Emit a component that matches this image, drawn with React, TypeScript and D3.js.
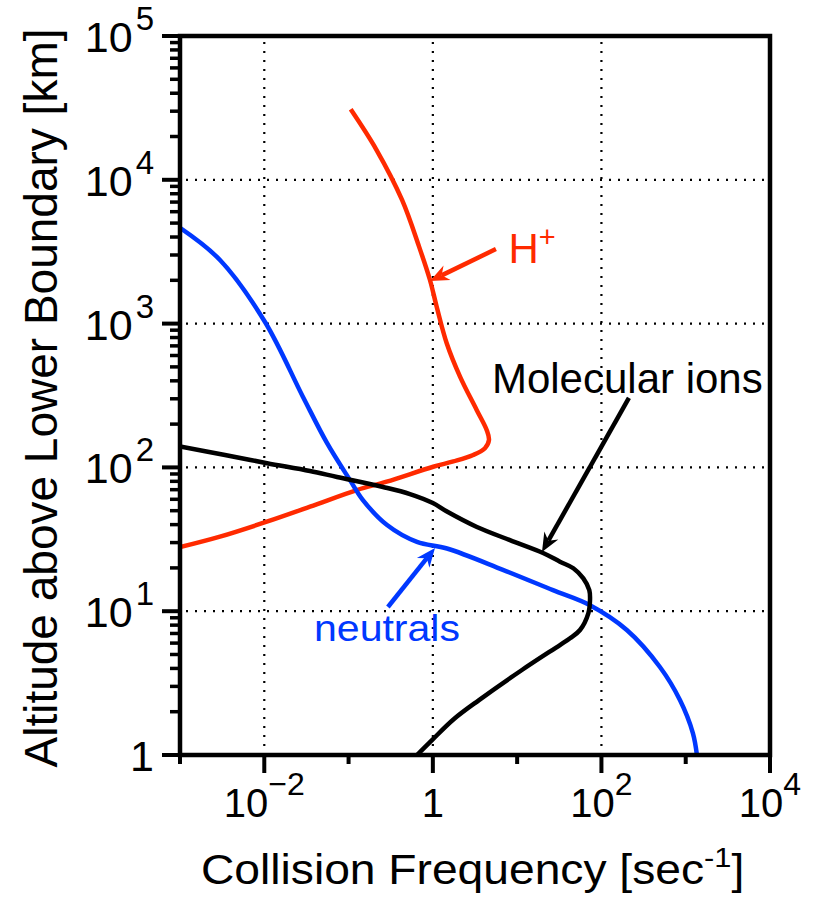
import * as d3 from "d3";

// [collision frequency (1/s), altitude (km)]
const neutrals: [number, number][] = [
  [0.001, 4630], [0.00298, 2770], [0.0102, 1026], [0.0288, 309], [0.0554, 148],
  [0.104, 81.6], [0.148, 59.3], [0.286, 39.7], [0.648, 30.3], [1.47, 27.3],
  [6.78, 19.4], [26.6, 14.0], [73.1, 11.0], [200, 7.4], [494, 4.09],
  [854, 2.41], [1216, 1.42], [1358, 1],
];

const hPlus: [number, number][] = [
  [0.106, 30900], [0.215, 16100], [0.431, 7240], [0.686, 3430],
  [0.924, 2010], [1.11, 1310], [1.46, 730], [2.1, 428], [3.31, 251],
  [4.35, 182], [4.63, 155], [4.15, 136], [3.01, 122], [1.75, 110],
  [1.01, 101], [0.283, 79.6], [0.125, 69.6], [0.0349, 53.3], [0.0107, 41.9],
  [0.00298, 33.0], [0.001, 27.9],
];

const molecularIons: [number, number][] = [
  [0.001, 140], [0.00342, 122], [0.0108, 107], [0.0348, 94.4], [0.0728, 85.8],
  [0.256, 73.1], [0.535, 65.3], [1.0, 56.5], [1.47, 49.3], [3.33, 38.5],
  [8.22, 31.2], [20.3, 25.4], [32.2, 22.1], [46.4, 19.9], [61.0, 16.9],
  [71.8, 14.0], [73.2, 11.96], [69.9, 9.67], [55.7, 7.4], [42.4, 6.48],
  [32.2, 5.82], [11.4, 3.9], [3.53, 2.41], [1.78, 1.78], [0.977, 1.27],
  [0.649, 1],
];

const xGridValues = [1e-2, 1, 1e2];
const yGridValues = [1e1, 1e2, 1e3, 1e4];
const xLabelExponents = [-2, 0, 2, 4];
const yLabelExponents = [0, 1, 2, 3, 4, 5];

const RED = "#ff2a00";
const BLUE = "#0038ff";
const FONT = "'Liberation Sans', Arial, Helvetica, sans-serif";

const width = 830;
const height = 913;
const margin = { top: 36, right: 60, bottom: 158, left: 180 };
const plotRight = width - margin.right;
const plotBottom = height - margin.bottom;

const x = d3.scaleLog().domain([1e-3, 1e4]).range([margin.left, plotRight]);
const y = d3.scaleLog().domain([1, 1e5]).range([plotBottom, margin.top]);

const line = d3
  .line<[number, number]>()
  .x((d) => x(d[0]))
  .y((d) => y(d[1]))
  .curve(d3.curveCatmullRom.alpha(0.5));

const expText = (e: number) => (e < 0 ? "\u2212" + Math.abs(e) : String(e));

type ArrowProps = { from: [number, number]; to: [number, number]; color: string };

// arrow between two data points, head at "to"
const Arrow = ({ from, to, color }: ArrowProps) => {
  const x1 = x(from[0]), y1 = y(from[1]);
  const x2 = x(to[0]), y2 = y(to[1]);
  const a = Math.atan2(y2 - y1, x2 - x1);
  const ux = Math.cos(a), uy = Math.sin(a);
  const px = -uy, py = ux;
  const len = 19, half = 8, notch = 13;
  const bx = x2 - ux * len, by = y2 - uy * len;
  const nx = x2 - ux * notch, ny = y2 - uy * notch;
  const head = `M${x2},${y2}L${bx + px * half},${by + py * half}L${nx},${ny}L${bx - px * half},${by - py * half}Z`;
  return (
    <g>
      <line x1={x1} y1={y1} x2={nx} y2={ny} stroke={color} strokeWidth={4.5} />
      <path d={head} fill={color} />
    </g>
  );
};

const App = () => {
  const xDecades = d3.range(-3, 5).map((p) => 10 ** p);
  const yDecades = d3.range(0, 6).map((p) => 10 ** p);
  const yMinor = d3.range(0, 5).flatMap((p) => d3.range(2, 10).map((k) => k * 10 ** p));

  return (
    <svg
      width={width}
      height={height}
      style={{ position: "absolute", left: 0, top: 0, background: "#fff" }}
      fontFamily={FONT}
    >
      <defs>
        <clipPath id="plot">
          <rect x={margin.left} y={margin.top} width={plotRight - margin.left} height={plotBottom - margin.top} />
        </clipPath>
      </defs>

      {/* dotted grid */}
      {xGridValues.map((v) => (
        <line key={"gx" + v} x1={x(v)} x2={x(v)} y1={margin.top + 6} y2={plotBottom} stroke="#000" strokeWidth={2.2} strokeDasharray="2 7" />
      ))}
      {yGridValues.map((v) => (
        <line key={"gy" + v} x1={margin.left + 6} x2={plotRight} y1={y(v)} y2={y(v)} stroke="#000" strokeWidth={2.2} strokeDasharray="2 7" />
      ))}

      {/* curves */}
      <g clipPath="url(#plot)" fill="none" strokeLinejoin="round">
        <path d={line(hPlus)!} stroke={RED} strokeWidth={4.5} />
        <path d={line(neutrals)!} stroke={BLUE} strokeWidth={4.5} />
        <path d={line(molecularIons)!} stroke="#000" strokeWidth={4.5} />
      </g>

      {/* ticks */}
      {xDecades.map((v, i) => (
        <line key={"tx" + v} x1={x(v)} x2={x(v)} y1={plotBottom} y2={plotBottom + (i % 2 === 1 ? 18 : 9)} stroke="#000" strokeWidth={4} />
      ))}
      {yDecades.map((v) => (
        <line key={"ty" + v} x1={margin.left - 18} x2={margin.left} y1={y(v)} y2={y(v)} stroke="#000" strokeWidth={4} />
      ))}
      {yMinor.map((v) => (
        <line key={"tm" + v} x1={margin.left - 10} x2={margin.left} y1={y(v)} y2={y(v)} stroke="#000" strokeWidth={3.5} />
      ))}

      {/* frame */}
      <rect x={margin.left} y={margin.top} width={plotRight - margin.left} height={plotBottom - margin.top} fill="none" stroke="#000" strokeWidth={4.5} />

      {/* tick labels */}
      {xLabelExponents.map((e) => (
        <text key={"lx" + e} x={x(10 ** e)} y={plotBottom + 62} textAnchor="middle" fontSize={40}>
          {e === 0 ? "1" : "10"}
          {e !== 0 && (
            <tspan dy={-22} fontSize={32}>
              {expText(e)}
            </tspan>
          )}
        </text>
      ))}
      {yLabelExponents.map((e) => (
        <text key={"ly" + e} x={154} y={y(10 ** e) + 16} textAnchor="end" fontSize={43}>
          {e === 0 ? "1" : "10"}
          {e !== 0 && (
            <tspan dx={3} dy={-22} fontSize={33}>
              {expText(e)}
            </tspan>
          )}
        </text>
      ))}

      {/* axis titles */}
      <text transform="translate(201,884) scale(1.1,1)" fontSize={42}>
        Collision Frequency [sec
        <tspan dy={-17} fontSize={28}>-1</tspan>
        <tspan dy={17}>]</tspan>
      </text>
      <text transform="translate(57,398) rotate(-90)" textAnchor="middle" fontSize={46}>
        Altitude above Lower Boundary [km]
      </text>

      {/* annotations */}
      <Arrow from={[5.6, 3300]} to={[0.924, 1977]} color={RED} />
      <text x={x(7.9)} y={y(2650)} fontSize={42} fill={RED}>
        H<tspan dy={-16} fontSize={29}>+</tspan>
      </text>

      <Arrow from={[212, 304]} to={[19.7, 25.8]} color="#000" />
      <text x={x(5.02)} y={y(329)} fontSize={42}>
        Molecular ions
      </text>

      <Arrow from={[0.293, 10.7]} to={[1.06, 27.5]} color={BLUE} />
      <text x={x(0.0389)} y={y(6.21)} fontSize={37} fill={BLUE} textLength={146} lengthAdjust="spacingAndGlyphs">
        neutrals
      </text>
    </svg>
  );
};

export default App;
